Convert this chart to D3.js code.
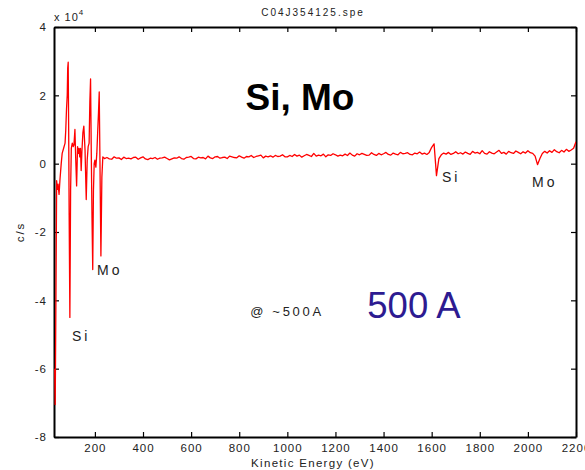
<!DOCTYPE html>
<html>
<head>
<meta charset="utf-8">
<script src="https://cdn.jsdelivr.net/npm/d3@7"></script>
<style>
  html, body { margin: 0; padding: 0; background: #fff; }
  svg { display: block; font-family: "Liberation Sans", Arial, sans-serif; }
</style>
</head>
<body>
<svg id="chart" width="585" height="470"></svg>
<script>
// Low-energy region (Si LVV and Mo MNN), sampled unevenly: kinetic energy in eV
const lowEnergy = [33, 35, 38, 41, 44, 47, 51, 55, 60, 64, 70, 76, 79, 82, 85, 87, 89, 91, 93, 96,
  99, 102, 106, 110, 113, 117, 120, 124, 128, 131, 134, 137, 140, 143, 146, 150, 154, 159, 164,
  168, 172, 176, 179, 182, 185, 188, 191, 194, 197, 200, 204, 208, 212, 215, 218, 221, 225, 229, 233];
// derivative counts, c/s x 10^4
const lowCounts = [-6.0, -7.05, -4.0, -0.5, -0.75, -0.6, -0.9, -0.45, 0.0, 0.3, 0.45, 0.6, 1.0, 1.6,
  2.0, 2.8, 2.97, 1.0, -1.5, -4.5, -0.8, 0.45, 0.6, 0.5, 0.55, 1.0, 0.2, -0.65, 0.5, 0.3, 0.45,
  0.2, 0.45, -0.2, 0.35, 0.9, 1.1, 0.4, -1.05, 0.1, 0.5, 0.6, 1.8, 2.48, 0.3, -1.6, -3.1, -0.8,
  0.0, 0.1, -0.1, 0.3, 1.0, 1.5, 2.1, 0.1, -2.7, -0.4, 0.2];

// Remainder of the scan: 10 eV steps from 240 eV to 2200 eV
const scanStart = 240;
const scanStep = 10;
const scanCounts = [
  0.15, 0.18, 0.14, 0.13, 0.20, 0.16, 0.17, 0.12, 0.19, 0.15,
  0.16, 0.14, 0.18, 0.19, 0.13, 0.17, 0.20, 0.14, 0.12, 0.16,
  0.15, 0.18, 0.13, 0.16, 0.17, 0.19, 0.15, 0.11, 0.14, 0.17,
  0.16, 0.20, 0.15, 0.13, 0.18, 0.19, 0.21, 0.15, 0.14, 0.19,
  0.17, 0.18, 0.14, 0.22, 0.17, 0.15, 0.20, 0.21, 0.16, 0.18,
  0.19, 0.15, 0.22, 0.20, 0.18, 0.17, 0.23, 0.19, 0.16, 0.21,
  0.20, 0.24, 0.18, 0.21, 0.23, 0.25, 0.17, 0.22, 0.20, 0.23,
  0.19, 0.24, 0.21, 0.22, 0.26, 0.20, 0.20, 0.24, 0.21, 0.27,
  0.22, 0.25, 0.19, 0.23, 0.27, 0.24, 0.21, 0.30, 0.22, 0.25,
  0.23, 0.28, 0.20, 0.26, 0.24, 0.29, 0.26, 0.22, 0.25, 0.23,
  0.28, 0.24, 0.31, 0.25, 0.22, 0.29, 0.26, 0.30, 0.27, 0.24,
  0.25, 0.32, 0.27, 0.24, 0.30, 0.26, 0.29, 0.33, 0.27, 0.25,
  0.31, 0.28, 0.26, 0.33, 0.29, 0.30, 0.32, 0.27, 0.26, 0.31,
  0.29, 0.34, 0.28, 0.31, 0.27, 0.33, 0.48, 0.58, -0.35, 0.15,
  0.26, 0.31, 0.28, 0.33, 0.27, 0.30, 0.35, 0.29, 0.32, 0.28,
  0.34, 0.30, 0.27, 0.36, 0.31, 0.33, 0.29, 0.38, 0.30, 0.28,
  0.35, 0.31, 0.29, 0.34, 0.39, 0.30, 0.33, 0.28, 0.36, 0.32,
  0.30, 0.37, 0.33, 0.29, 0.35, 0.31, 0.38, 0.32, 0.30, 0.22,
  -0.03, 0.15, 0.30, 0.36, 0.31, 0.38, 0.33, 0.41, 0.35, 0.32,
  0.39, 0.34, 0.42, 0.36, 0.40, 0.45, 0.64
];

const xTicks = [200, 400, 600, 800, 1000, 1200, 1400, 1600, 1800, 2000, 2200];
const yTicks = [-8, -6, -4, -2, 0, 2, 4];

// Peak labels: [text, energy eV, counts x10^4]
const peakLabels = [
  ["Si", 105, -5.2],
  ["Mo", 209, -3.25],
  ["Si", 1643, -0.53],
  ["Mo", 2017, -0.67]
];

const svg = d3.select("#chart");
const font = "'Liberation Sans', Arial, sans-serif";

const x = d3.scaleLinear().domain([30, 2200]).range([54, 576]);
const y = d3.scaleLinear().domain([-8, 4]).range([437, 27]);

const spectrum = lowEnergy.map((e, i) => ({ e, c: lowCounts[i] }))
  .concat(scanCounts.map((c, i) => ({ e: scanStart + i * scanStep, c })));

svg.append("defs").append("clipPath").attr("id", "plotClip")
  .append("rect").attr("x", 54).attr("y", 27).attr("width", 522).attr("height", 410);

// axes with inward ticks on all four sides
const fmtY = d => (d < 0 ? "-" + Math.abs(d) : String(d));

const gB = svg.append("g").attr("transform", `translate(0,${y.range()[0]})`)
  .call(d3.axisBottom(x).tickValues(xTicks).tickSize(-5).tickSizeOuter(0).tickPadding(7)
    .tickFormat(d3.format("d")));
const gT = svg.append("g").attr("transform", `translate(0,${y.range()[1]})`)
  .call(d3.axisTop(x).tickValues(xTicks).tickSize(-5).tickSizeOuter(0).tickFormat(""));
const gL = svg.append("g").attr("transform", `translate(${x.range()[0]},0)`)
  .call(d3.axisLeft(y).tickValues(yTicks).tickSize(-5).tickSizeOuter(0).tickPadding(7).tickFormat(fmtY));
const gR = svg.append("g").attr("transform", `translate(${x.range()[1]},0)`)
  .call(d3.axisRight(y).tickValues(yTicks).tickSize(-5).tickSizeOuter(0).tickFormat(""));

[gB, gT, gL, gR].forEach(g => {
  g.select(".domain").attr("stroke", "#000").attr("stroke-width", 2);
  g.selectAll(".tick line").attr("stroke", "#000").attr("stroke-width", 1.2);
  g.selectAll("text").attr("fill", "#222").attr("font-family", font)
    .attr("font-size", 11.5).style("letter-spacing", "1px");
});

// spectrum trace
svg.append("path")
  .datum(spectrum)
  .attr("clip-path", "url(#plotClip)")
  .attr("fill", "none")
  .attr("stroke", "#ff0000")
  .attr("stroke-width", 1.3)
  .attr("stroke-linejoin", "round")
  .attr("d", d3.line().x(d => x(d.e)).y(d => y(d.c)));

// title
svg.append("text").attr("x", 313).attr("y", 16).attr("text-anchor", "middle")
  .attr("font-size", 10).style("letter-spacing", "2px").attr("fill", "#222")
  .text("C04J354125.spe");

// multiplier
const mult = svg.append("text").attr("x", 54).attr("y", 21).attr("font-size", 11)
  .attr("fill", "#222").style("letter-spacing", "1px");
mult.append("tspan").text("x 10");
mult.append("tspan").attr("dy", -6).attr("font-size", 8).text("4");

// axis titles
svg.append("text").attr("transform", "translate(24,232) rotate(-90)")
  .attr("text-anchor", "middle").attr("font-size", 11.5).style("letter-spacing", "2px")
  .attr("fill", "#222").text("c/s");
svg.append("text").attr("x", 313).attr("y", 467).attr("text-anchor", "middle")
  .attr("font-size", 11.5).style("letter-spacing", "1.3px").attr("fill", "#222")
  .text("Kinetic Energy (eV)");

// annotations
svg.append("text").attr("x", 300).attr("y", 110).attr("text-anchor", "middle")
  .attr("font-size", 37).attr("font-weight", "bold").attr("fill", "#000").text("Si, Mo");
svg.append("text").attr("x", 287).attr("y", 316).attr("text-anchor", "middle")
  .attr("font-size", 13).style("letter-spacing", "2.7px").attr("fill", "#222").text("@ ~500A");
svg.append("text").attr("x", 414).attr("y", 318).attr("text-anchor", "middle")
  .attr("font-size", 36.5).attr("fill", "#2d1b91").text("500 A");

svg.selectAll("text.peak").data(peakLabels).join("text").attr("class", "peak")
  .attr("x", d => x(d[1])).attr("y", d => y(d[2]))
  .attr("font-size", 14).style("letter-spacing", "3px").attr("fill", "#222")
  .text(d => d[0]);
</script>
</body>
</html>
